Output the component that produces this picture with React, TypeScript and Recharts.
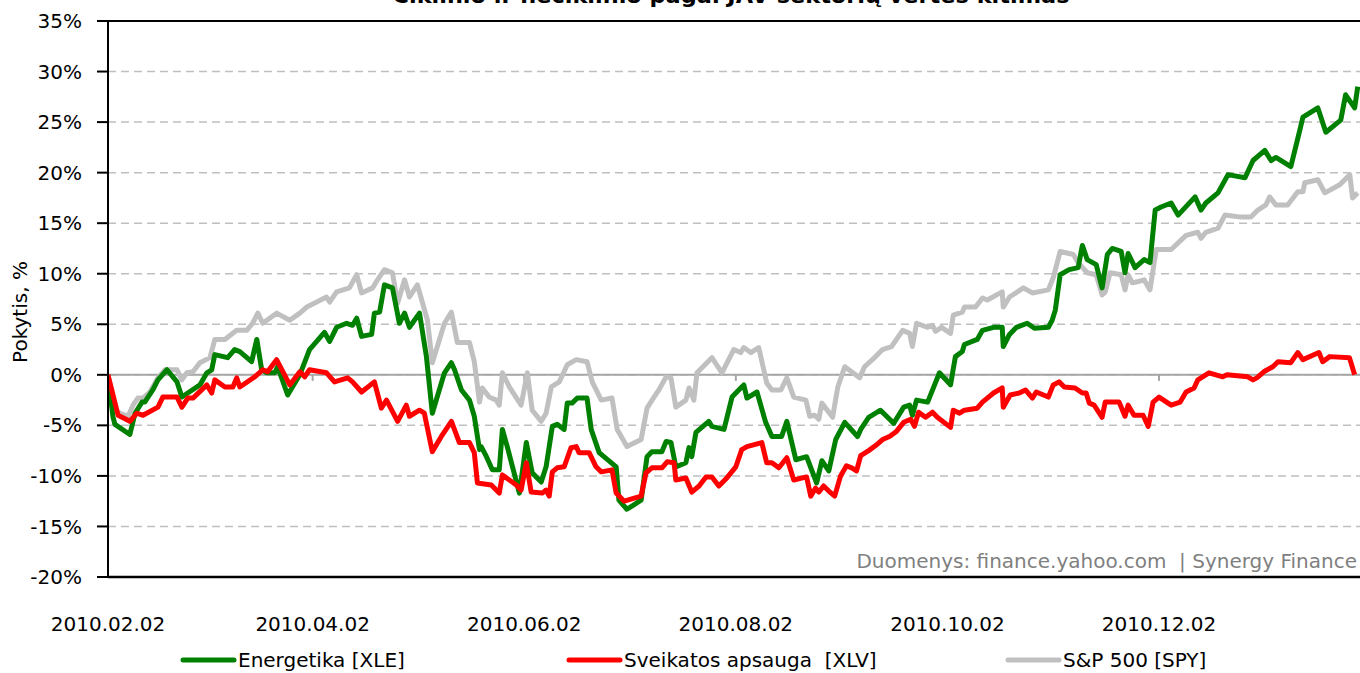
import React from 'react';
import { LineChart, Line, XAxis, YAxis, CartesianGrid, ReferenceLine } from 'recharts';

// Calendar-day offsets from 2010.02.02 and % change
const xlePoints: [number, number][] = [
  [0, 0], [1.4, -4.1], [2.0, -4.9], [6.3, -5.9], [7.8, -3.8], [9.8, -2.7], [10.6, -2.7], [12.9, -1.5],
  [14.4, -0.5], [17.0, 0.5], [19.9, -0.7], [21.3, -2.2], [23.0, -1.8], [26.5, -1.0], [28.5, 0.2], [29.9, 0.5],
  [30.8, 2.0], [34.5, 1.7], [36.5, 2.5], [38.0, 2.3], [41.4, 1.3], [42.9, 3.5], [44.3, 0.5], [45.8, 0.2],
  [48.1, 0.2], [48.9, 0.8], [51.8, -2.0], [55.3, 0], [58.1, 2.5], [62.4, 4.2], [63.9, 3.3], [65.9, 4.7],
  [68.8, 5.1], [70.5, 4.9], [71.7, 5.6], [73.1, 3.8], [76.0, 4.0], [76.8, 6.1], [78.3, 6.2], [79.7, 8.9],
  [82.0, 8.6], [84.0, 5.1], [85.5, 6.1], [86.9, 4.7], [89.8, 6.1], [91.8, 1.8], [93.5, -3.8], [97.0, 0.2],
  [99.0, 1.2], [99.9, 0.5], [101.9, -1.5], [104.2, -2.5], [105.6, -4.1], [107.1, -7.4], [107.6, -7.1], [109.1, -8.1],
  [110.8, -9.4], [112.8, -9.4], [113.7, -5.4], [115.1, -7.1], [118.6, -11.7], [120.6, -6.7], [122.3, -9.7], [124.9, -10.6],
  [126.3, -9.1], [128.1, -5.1], [129.5, -4.9], [131.5, -5.4], [132.4, -2.8], [133.8, -2.8], [135.3, -2.3], [138.1, -2.3],
  [139.3, -5.4], [141.6, -7.7], [146.5, -9.1], [147.3, -12.4], [149.6, -13.3], [153.7, -12.4], [155.4, -8.1], [156.8, -7.6],
  [159.7, -7.6], [160.9, -6.6], [162.3, -6.7], [163.7, -9.1], [166.6, -8.7], [167.5, -7.2], [168.3, -8.1], [169.5, -5.7],
  [173.2, -4.6], [174.1, -5.1], [177.6, -5.4], [179.9, -2.2], [182.4, -1.3], [183.3, -1.0], [184.2, -2.3], [187.1, -1.7],
  [189.6, -4.7], [191.4, -6.1], [194.2, -6.1], [195.7, -4.6], [198.3, -8.4], [201.4, -8.1], [204.3, -10.7], [205.8, -8.5],
  [207.8, -9.5], [209.8, -6.4], [212.4, -4.7], [216.1, -6.1], [217.0, -5.4], [219.3, -4.2], [222.7, -3.5], [226.5, -4.8],
  [229.4, -3.2], [231.1, -3.0], [231.9, -4.0], [233.1, -2.5], [236.3, -2.7], [238.3, -1.0], [239.7, 0.2], [242.9, -1.0],
  [244.3, 1.8], [246.3, 2.3], [246.9, 3.0], [250.6, 3.5], [252.1, 4.4], [255.3, 4.7], [257.8, 4.7], [258.1, 2.8],
  [259.9, 4.0], [261.9, 4.7], [265.0, 5.1], [267.1, 4.6], [271.1, 4.7], [272.2, 5.4], [273.1, 6.4], [274.5, 9.9],
  [277.1, 10.4], [279.7, 10.6], [280.9, 12.8], [282.3, 11.4], [284.9, 10.9], [286.6, 8.6], [288.1, 11.9], [289.5, 12.5],
  [292.1, 12.2], [293.2, 10.1], [294.1, 12.0], [296.1, 10.6], [298.7, 11.4], [300.4, 11.1], [301.9, 16.3], [303.6, 16.6],
  [306.5, 17.0], [308.5, 15.8], [313.4, 17.6], [315.1, 16.3], [316.5, 17.0], [320.0, 18.0], [322.9, 19.8], [327.8, 19.5],
  [330.1, 21.2], [333.5, 22.2], [335.3, 21.2], [336.7, 21.5], [341.0, 20.6], [343.6, 24.2], [344.5, 25.5], [348.8, 26.4],
  [351.1, 24.0], [355.4, 25.2], [356.8, 27.7], [359.4, 26.4], [360.3, 28.5],
];

const xlvPoints: [number, number][] = [
  [0, 0], [2.9, -4.0], [6.3, -4.6], [8.3, -3.8], [10.1, -4.0], [14.4, -3.2], [15.8, -2.2], [19.9, -2.2],
  [21.3, -3.2], [23.0, -2.3], [24.5, -2.3], [28.5, -1.0], [29.9, -1.8], [30.8, -0.5], [33.7, -1.2], [36.0, -1.2],
  [37.1, -0.3], [38.0, -1.2], [42.3, -0.2], [44.6, 0.5], [46.0, 0.3], [48.6, 1.5], [52.4, -1.0], [55.3, 0.3],
  [56.7, -0.2], [58.1, 0.5], [63.0, 0.2], [65.3, -0.7], [69.1, -0.3], [70.5, -0.7], [73.1, -1.7], [76.8, -0.7],
  [78.8, -3.3], [80.3, -2.5], [83.5, -4.6], [86.0, -3.0], [86.9, -4.1], [89.8, -3.5], [91.2, -3.8], [93.5, -7.6],
  [96.1, -6.1], [99.0, -4.6], [101.3, -6.7], [104.2, -6.7], [105.6, -7.7], [106.5, -10.7], [110.5, -10.9], [112.8, -11.7],
  [113.7, -9.9], [117.7, -10.9], [119.1, -11.4], [120.6, -8.7], [122.0, -11.6], [125.2, -11.7], [126.3, -11.4], [127.2, -12.0],
  [128.1, -9.6], [129.5, -9.2], [131.5, -9.1], [133.5, -7.2], [135.0, -7.1], [135.8, -7.7], [138.7, -7.7], [140.7, -9.1],
  [142.2, -9.6], [145.3, -9.4], [146.5, -11.7], [148.8, -12.5], [153.7, -12.0], [155.1, -9.7], [156.8, -9.2], [159.7, -9.2],
  [161.2, -8.6], [163.2, -8.7], [163.7, -10.4], [166.6, -10.2], [168.3, -11.6], [170.4, -11.0], [172.4, -10.1], [174.1, -10.1],
  [176.1, -11.0], [178.4, -10.2], [181.0, -9.1], [182.7, -7.4], [184.2, -7.1], [188.5, -6.7], [189.9, -8.7], [191.4, -8.7],
  [193.4, -9.2], [195.7, -8.2], [197.7, -10.4], [201.4, -10.1], [202.6, -12.0], [204.0, -11.2], [204.9, -11.6], [206.3, -11.0],
  [207.8, -11.5], [209.5, -12.0], [211.2, -10.0], [212.9, -9.0], [214.4, -9.2], [215.8, -9.5], [217.0, -8.0], [219.3, -7.5],
  [221.3, -7.0], [223.3, -6.4], [225.3, -6.1], [227.3, -5.6], [229.4, -4.7], [231.4, -4.4], [232.5, -5.1], [233.7, -3.7],
  [235.7, -4.2], [237.7, -3.7], [239.1, -4.2], [242.9, -5.2], [243.7, -3.5], [245.5, -3.8], [246.9, -3.5], [250.6, -3.3],
  [252.1, -2.7], [253.5, -2.3], [255.3, -1.8], [257.8, -1.3], [258.1, -3.2], [260.1, -2.0], [262.7, -1.8], [264.5, -1.5],
  [266.5, -2.3], [267.6, -1.7], [271.1, -2.2], [272.5, -1.0], [274.2, -0.7], [275.7, -1.2], [278.8, -1.3], [280.9, -1.8],
  [282.0, -1.8], [282.9, -2.8], [284.3, -3.0], [286.6, -4.2], [287.5, -2.7], [291.5, -2.7], [293.2, -4.1], [294.1, -3.0],
  [295.8, -4.0], [298.4, -4.0], [299.9, -5.1], [301.3, -2.7], [303.0, -2.2], [306.5, -3.0], [309.1, -2.7], [310.8, -1.7],
  [313.1, -1.3], [314.2, -0.5], [317.4, 0.2], [321.4, -0.2], [322.6, 0], [328.6, -0.2], [330.1, -0.5], [331.2, -0.3],
  [333.2, 0.3], [335.8, 0.8], [337.3, 1.3], [341.0, 1.2], [343.0, 2.2], [344.5, 1.5], [349.1, 2.2], [350.2, 1.3],
  [352.2, 1.8], [357.9, 1.7], [359.4, 0],
];

const spyPoints: [number, number][] = [
  [0, 0], [2.0, -3.5], [3.5, -3.8], [5.8, -4.1], [7.2, -3.0], [8.6, -2.3], [10.1, -2.3], [12.1, -1.7],
  [14.4, -0.3], [16.4, 0.5], [19.9, 0.5], [21.3, -0.5], [22.7, 0.2], [24.5, 0.3], [26.5, 1.2], [29.4, 1.7],
  [30.8, 3.5], [33.7, 3.5], [37.1, 4.4], [40.0, 4.4], [41.7, 5.1], [43.2, 6.1], [44.6, 5.1], [48.6, 6.1],
  [52.4, 5.4], [55.3, 6.1], [57.3, 6.7], [59.6, 7.1], [63.0, 7.7], [63.9, 7.2], [65.9, 8.2], [69.6, 8.6],
  [71.7, 9.9], [73.1, 8.1], [76.3, 8.6], [77.7, 9.4], [79.7, 10.4], [82.0, 10.1], [83.5, 7.1], [85.5, 9.4],
  [86.9, 7.7], [89.2, 8.9], [92.1, 5.4], [93.5, 1.2], [97.0, 5.1], [99.0, 6.2], [100.7, 3.2], [104.2, 3.2],
  [105.6, 1.3], [107.1, -2.7], [107.9, -1.3], [109.9, -2.2], [111.9, -2.5], [112.8, -3.0], [113.7, 0.2], [115.7, -1.2],
  [119.1, -3.0], [120.9, 0.2], [122.3, -3.5], [124.9, -4.6], [126.3, -3.8], [127.8, -1.2], [130.1, -0.7], [132.4, 1.0],
  [135.0, 1.5], [138.1, 1.3], [139.6, -0.7], [142.2, -2.5], [145.3, -2.3], [146.8, -5.4], [149.6, -7.1], [153.7, -6.4],
  [155.4, -3.3], [157.4, -2.2], [158.8, -1.5], [160.9, -0.2], [162.3, -0.3], [163.7, -3.2], [166.6, -2.5], [167.5, -1.3],
  [168.9, -2.5], [169.8, 0.2], [174.1, 1.7], [177.0, 0.2], [180.4, 2.5], [182.4, 2.2], [183.3, 2.7], [185.3, 2.2],
  [187.6, 2.7], [189.9, -0.8], [191.4, -1.5], [194.0, -1.5], [195.7, -0.3], [197.7, -2.2], [201.2, -2.5], [202.3, -4.1],
  [203.7, -4.0], [204.9, -4.4], [205.8, -2.8], [208.9, -4.2], [210.4, -1.2], [212.4, 0.8], [216.7, -0.3], [218.1, 0.8],
  [221.3, 1.8], [223.3, 2.5], [225.9, 2.8], [229.1, 4.4], [231.1, 4.1], [231.9, 2.8], [233.1, 5.1], [236.3, 4.7],
  [237.7, 4.9], [238.6, 4.3], [240.3, 4.7], [242.9, 4.1], [243.7, 5.9], [246.3, 6.2], [246.9, 6.7], [250.1, 6.7],
  [252.1, 7.6], [253.5, 7.4], [257.8, 8.2], [258.1, 6.7], [259.9, 7.7], [263.9, 8.6], [266.5, 8.1], [271.1, 8.4],
  [272.5, 9.6], [274.5, 12.2], [278.3, 11.9], [279.7, 11.1], [282.3, 10.1], [284.9, 9.9], [286.6, 7.9], [287.5, 8.2],
  [288.9, 10.1], [292.1, 9.9], [293.2, 8.4], [294.1, 9.9], [295.3, 9.1], [296.7, 9.2], [298.7, 9.4], [300.4, 8.4],
  [302.2, 12.4], [306.5, 12.4], [310.8, 13.8], [314.2, 14.1], [315.1, 13.5], [316.5, 14.1], [320.0, 14.5], [322.0, 15.8],
  [326.6, 15.6], [329.5, 15.6], [331.5, 16.3], [333.8, 16.8], [334.9, 17.6], [336.7, 16.8], [340.1, 16.8], [343.0, 18.1],
  [344.5, 18.1], [345.0, 19.0], [348.8, 19.3], [350.8, 18.0], [355.1, 18.8], [358.0, 19.8], [358.8, 17.5], [360.3, 18.0],
];

const xTicks = [0, 59, 120, 181, 242, 303];
const xTickLabels = ['2010.02.02', '2010.04.02', '2010.06.02', '2010.08.02', '2010.10.02', '2010.12.02'];
const yTicks = [-20, -15, -10, -5, 0, 5, 10, 15, 20, 25, 30, 35];

const seriesNames = ['Energetika [XLE]', 'Sveikatos apsauga  [XLV]', 'S&P 500 [SPY]'];
const seriesColors = ['#008000', '#FF0000', '#C0C0C0'];

const titleText = 'Ciklinio ir neciklinio pagal JAV sektorių vertės kitimas';
const sourceText = 'Duomenys: finance.yahoo.com  | Synergy Finance';

const toData = (pts: [number, number][]) => pts.map(([day, value]) => ({ day, value }));

const FONT = '"DejaVu Sans", sans-serif';

const XTick = (props: any) => {
  const { x, y, payload } = props;
  const idx = xTicks.indexOf(payload.value);
  return (
    <text x={x} y={y} dy="0.71em" textAnchor="middle" fontSize={20} fontFamily={FONT} fill="#000">
      {idx >= 0 ? xTickLabels[idx] : ''}
    </text>
  );
};

export default function App() {
  const legendItems = [
    { name: seriesNames[0], color: seriesColors[0], left: 180 },
    { name: seriesNames[1], color: seriesColors[1], left: 566 },
    { name: seriesNames[2], color: seriesColors[2], left: 1005 },
  ];
  return (
    <div style={{ position: 'fixed', left: 0, top: 0, width: 1360, height: 673, overflow: 'hidden', background: '#fff', fontFamily: FONT }}>
      <svg width={1360} height={20} style={{ position: 'absolute', left: 0, top: 0 }}>
        <text x={731} y={3} textAnchor="middle" fontSize={21} fontWeight="bold" fontFamily={FONT} textLength={677} lengthAdjust="spacingAndGlyphs">
          {titleText}
        </text>
      </svg>
      <div style={{ position: 'absolute', left: 0, top: 0 }}>
        <LineChart width={1400} height={640} margin={{ top: 21, right: 19, left: 0, bottom: 0 }}>
          <CartesianGrid vertical={false} stroke="#BFBFBF" strokeDasharray="8 5" strokeWidth={1.5} />
          <XAxis
            type="number"
            dataKey="day"
            domain={[0, 367]}
            ticks={xTicks}
            allowDataOverflow
            height={63}
            axisLine={false}
            tickLine={false}
            tickSize={0}
            tickMargin={40}
            tick={<XTick />}
            interval={0}
          />
          <YAxis
            type="number"
            domain={[-20, 35]}
            ticks={yTicks}
            width={108}
            interval={0}
            tickFormatter={(v: number) => `${v}%`}
            axisLine={{ stroke: '#000', strokeWidth: 2 }}
            tickLine={{ stroke: '#000', strokeWidth: 2 }}
            tickSize={11}
            tickMargin={15}
            tick={{ fontSize: 20, fontFamily: FONT, fill: '#000' }}
          />
          <ReferenceLine y={0} stroke="#A6A6A6" strokeWidth={2} />
          {xTicks.slice(1).map((d) => (
            <ReferenceLine key={d} segment={[{ x: d, y: 0 }, { x: d, y: -0.6 }]} stroke="#A6A6A6" strokeWidth={2} />
          ))}
          <ReferenceLine y={35} stroke="#000" strokeWidth={2} />
          <ReferenceLine y={-20} stroke="#000" strokeWidth={2.5} />
          <Line data={toData(spyPoints)} dataKey="value" name={seriesNames[2]} stroke={seriesColors[2]} strokeWidth={5} dot={false} isAnimationActive={false} strokeLinejoin="round" />
          <Line data={toData(xlePoints)} dataKey="value" name={seriesNames[0]} stroke={seriesColors[0]} strokeWidth={5} dot={false} isAnimationActive={false} strokeLinejoin="round" />
          <Line data={toData(xlvPoints)} dataKey="value" name={seriesNames[1]} stroke={seriesColors[1]} strokeWidth={5} dot={false} isAnimationActive={false} strokeLinejoin="round" />
        </LineChart>
      </div>
      <div style={{ position: 'absolute', left: 20, top: 312, transform: 'translate(-50%, -50%) rotate(-90deg)', fontSize: 20, whiteSpace: 'nowrap', color: '#000' }}>
        Pokytis, %
      </div>
      <div style={{ position: 'absolute', right: 3, top: 548, fontSize: 20, color: '#808080', whiteSpace: 'pre', lineHeight: '26px' }}>
        {sourceText}
      </div>
      {legendItems.map((it) => (
        <div key={it.name} style={{ position: 'absolute', left: it.left, top: 647, display: 'flex', alignItems: 'center', whiteSpace: 'pre', fontSize: 20, lineHeight: '26px' }}>
          <svg width={57} height={10} style={{ marginRight: 1 }}>
            <line x1={3} y1={5} x2={54} y2={5} stroke={it.color} strokeWidth={5} strokeLinecap="round" />
          </svg>
          <span>{it.name}</span>
        </div>
      ))}
    </div>
  );
}
